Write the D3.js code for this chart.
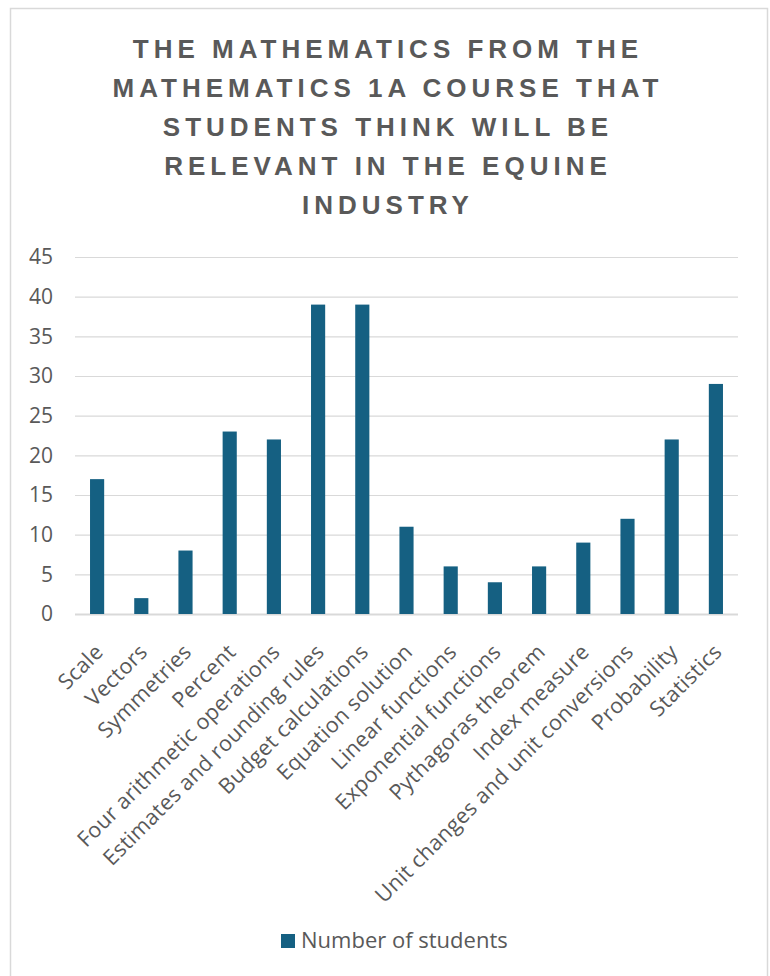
<!DOCTYPE html>
<html>
<head>
<meta charset="utf-8">
<script src="https://cdn.jsdelivr.net/npm/d3@7"></script>
<style>
  body { margin: 0; background: #fff; }
  svg { display: block; font-family: "Open Sans", "Liberation Sans", Arial, sans-serif; }
</style>
</head>
<body>
<svg id="chart" width="770" height="976"></svg>
<script>
const categories = [
  'Scale', 'Vectors', 'Symmetries', 'Percent', 'Four arithmetic operations',
  'Estimates and rounding rules', 'Budget calculations', 'Equation solution',
  'Linear functions', 'Exponential functions', 'Pythagoras theorem',
  'Index measure', 'Unit changes and unit conversions', 'Probability', 'Statistics'
];
const students = [17, 2, 8, 23, 22, 39, 39, 11, 6, 4, 6, 9, 12, 22, 29];
const yTicks = [0, 5, 10, 15, 20, 25, 30, 35, 40, 45];
const titleLines = [
  'THE MATHEMATICS FROM THE',
  'MATHEMATICS 1A COURSE THAT',
  'STUDENTS THINK WILL BE',
  'RELEVANT IN THE EQUINE',
  'INDUSTRY'
];
const seriesName = 'Number of students';

const textColor = '#595959';
const gridColor = '#d9d9d9';
const barColor = '#156082';

const svg = d3.select('#chart');

// outer frame
svg.append('rect')
  .attr('x', 10.5).attr('y', 8.5)
  .attr('width', 757).attr('height', 980)
  .attr('fill', 'none')
  .attr('stroke', gridColor)
  .attr('stroke-width', 1.5);

// title
svg.append('g')
  .attr('class', 'title')
  .selectAll('text')
  .data(titleLines)
  .join('text')
  .attr('x', 388)
  .attr('y', (d, i) => 58 + i * 39)
  .attr('text-anchor', 'middle')
  .attr('fill', textColor)
  .attr('font-family', '"Liberation Sans", Arial, sans-serif')
  .attr('font-size', 26)
  .attr('font-weight', 'bold')
  .attr('letter-spacing', 5)
  .text(d => d);

const margin = {left: 75, right: 32, top: 257, bottom: 362};
const x = d3.scaleBand()
  .domain(categories)
  .range([margin.left, 770 - margin.right])
  .paddingInner(0.68)
  .paddingOuter(0.34);
const y = d3.scaleLinear()
  .domain([0, 45])
  .range([976 - margin.bottom, margin.top]);

// gridlines
svg.append('g')
  .attr('class', 'grid')
  .selectAll('line')
  .data(yTicks)
  .join('line')
  .attr('x1', margin.left)
  .attr('x2', 770 - margin.right)
  .attr('y1', d => y(d) + 0.5)
  .attr('y2', d => y(d) + 0.5)
  .attr('stroke', gridColor)
  .attr('stroke-width', d => d === 0 ? 1.8 : 1.2);

// y axis labels
const yAxis = svg.append('g')
  .attr('transform', `translate(${margin.left - 22},0)`)
  .call(d3.axisLeft(y).tickValues(yTicks).tickSize(0).tickPadding(0));
yAxis.select('.domain').remove();
yAxis.selectAll('text')
  .attr('fill', textColor)
  .attr('font-size', 21)
  .attr('font-family', '"Open Sans", "Liberation Sans", Arial, sans-serif');

// bars
svg.append('g')
  .attr('class', 'bars')
  .selectAll('rect')
  .data(students)
  .join('rect')
  .attr('x', (d, i) => x(categories[i]))
  .attr('y', d => y(d))
  .attr('width', x.bandwidth())
  .attr('height', d => y(0) - y(d))
  .attr('fill', barColor);

// category labels
svg.append('g')
  .attr('class', 'x-labels')
  .selectAll('text')
  .data(categories)
  .join('text')
  .attr('transform', d => `translate(${x(d) + x.bandwidth() / 2 + 2},${y(0) + 34}) rotate(-45)`)
  .attr('text-anchor', 'end')
  .attr('dy', '0.35em')
  .attr('fill', textColor)
  .attr('font-size', 21.5)
  .attr('letter-spacing', 0.3)
  .text(d => d);

// legend
const legend = svg.append('g').attr('transform', 'translate(281,934)');
legend.append('rect')
  .attr('width', 14).attr('height', 14)
  .attr('fill', barColor);
legend.append('text')
  .attr('x', 20).attr('y', 14)
  .attr('fill', textColor)
  .attr('font-size', 22)
  .text(seriesName);
</script>
</body>
</html>
